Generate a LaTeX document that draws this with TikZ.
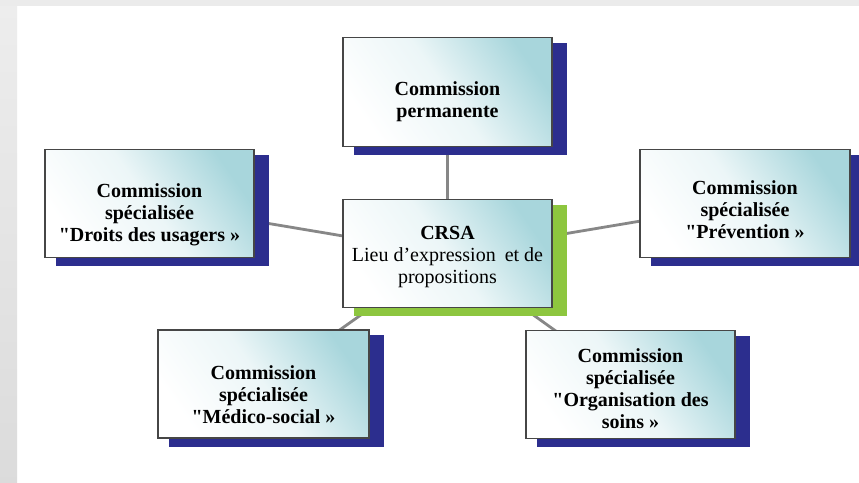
\documentclass[tikz,border=0pt]{standalone}
\usepackage{fontspec}
\setmainfont{Liberation Serif}
\usetikzlibrary{calc}
\pgfdeclarelayer{bg}
\pgfdeclarelayer{sh}
\pgfsetlayers{bg,sh,main}
\definecolor{boxcyan}{RGB}{168,214,220}
\definecolor{navyshadow}{RGB}{44,46,142}
\definecolor{limeshadow}{RGB}{141,198,63}
\definecolor{boxborder}{RGB}{70,70,70}
\definecolor{linkgray}{RGB}{135,135,135}
\tikzset{
  cbox/.style={draw=boxborder, line width=1.4pt, inner sep=0pt,
    minimum width=209pt, minimum height=108pt,
    shade, shading=axis, top color=boxcyan, bottom color=white,
    middle color=white!78!boxcyan, shading angle=-55},
  ctext/.style={align=center, inner sep=0pt,
    font=\fontsize{20}{22}\selectfont\bfseries},
  link/.style={draw=linkgray, line width=2.8pt},
}
\newcommand{\boxshadow}[2]{%
  \fill[#2] ($(#1.north west)+(12,6)$) rectangle ($(#1.south east)+(14,8)$);}
\begin{document}
\begin{tikzpicture}[x=1pt,y=-1pt]
\useasboundingbox (0,0) rectangle (859,482);
\begin{pgfonlayer}{bg}
  \fill[white] (0,0) rectangle (859,482);
  \shade[top color=black!7, bottom color=black!14] (0,0) rectangle (17,482);
  \fill[black!8] (0,0) rectangle (859,6);
\end{pgfonlayer}

\node[cbox, minimum height=109pt] (perm) at (447.5,92) {};
\node[cbox] (crsa) at (447.5,253.5) {};
\node[cbox] (droits) at (149.5,203.5) {};
\node[cbox, minimum width=210pt] (prev) at (745,203.5) {};
\node[cbox, minimum width=211pt] (medico) at (263.5,384) {};
\node[cbox] (orga) at (630.5,384.5) {};

\node[ctext] (permtxt) at ($(perm.center)+(0,10)$) {Commission\\permanente};
\node[ctext] (crsatxt) at ($(crsa.center)+(0,4)$) {CRSA\\\mdseries Lieu d’expression\hspace{0.45em}et de\\\mdseries propositions};
\node[ctext] (droitstxt) at ($(droits.center)+(0,11)$) {Commission\\spécialisée\\\textquotedbl Droits des usagers »};
\node[ctext] (prevtxt) at ($(prev.center)+(0,6)$) {Commission\\spécialisée\\\textquotedbl Prévention »};
\node[ctext] (medicotxt) at ($(medico.center)+(0,11)$) {Commission\\spécialisée\\\textquotedbl Médico-social »};
\node[ctext] (orgatxt) at ($(orga.center)+(0,4)$) {Commission\\spécialisée\\\textquotedbl Organisation des\\soins »};

\begin{pgfonlayer}{sh}
  \boxshadow{perm}{navyshadow}
  \boxshadow{crsa}{limeshadow}
  \boxshadow{droits}{navyshadow}
  \boxshadow{prev}{navyshadow}
  \boxshadow{medico}{navyshadow}
  \boxshadow{orga}{navyshadow}
\end{pgfonlayer}
\begin{pgfonlayer}{bg}
  \draw[link] (crsa.center) -- (perm.center);
  \draw[link] (crsa.center) -- (droits.center);
  \draw[link] (crsa.center) -- (prev.center);
  \draw[link] (crsa.center) -- (medico.center);
  \draw[link] (crsa.center) -- (orga.center);
\end{pgfonlayer}
\end{tikzpicture}
\end{document}
